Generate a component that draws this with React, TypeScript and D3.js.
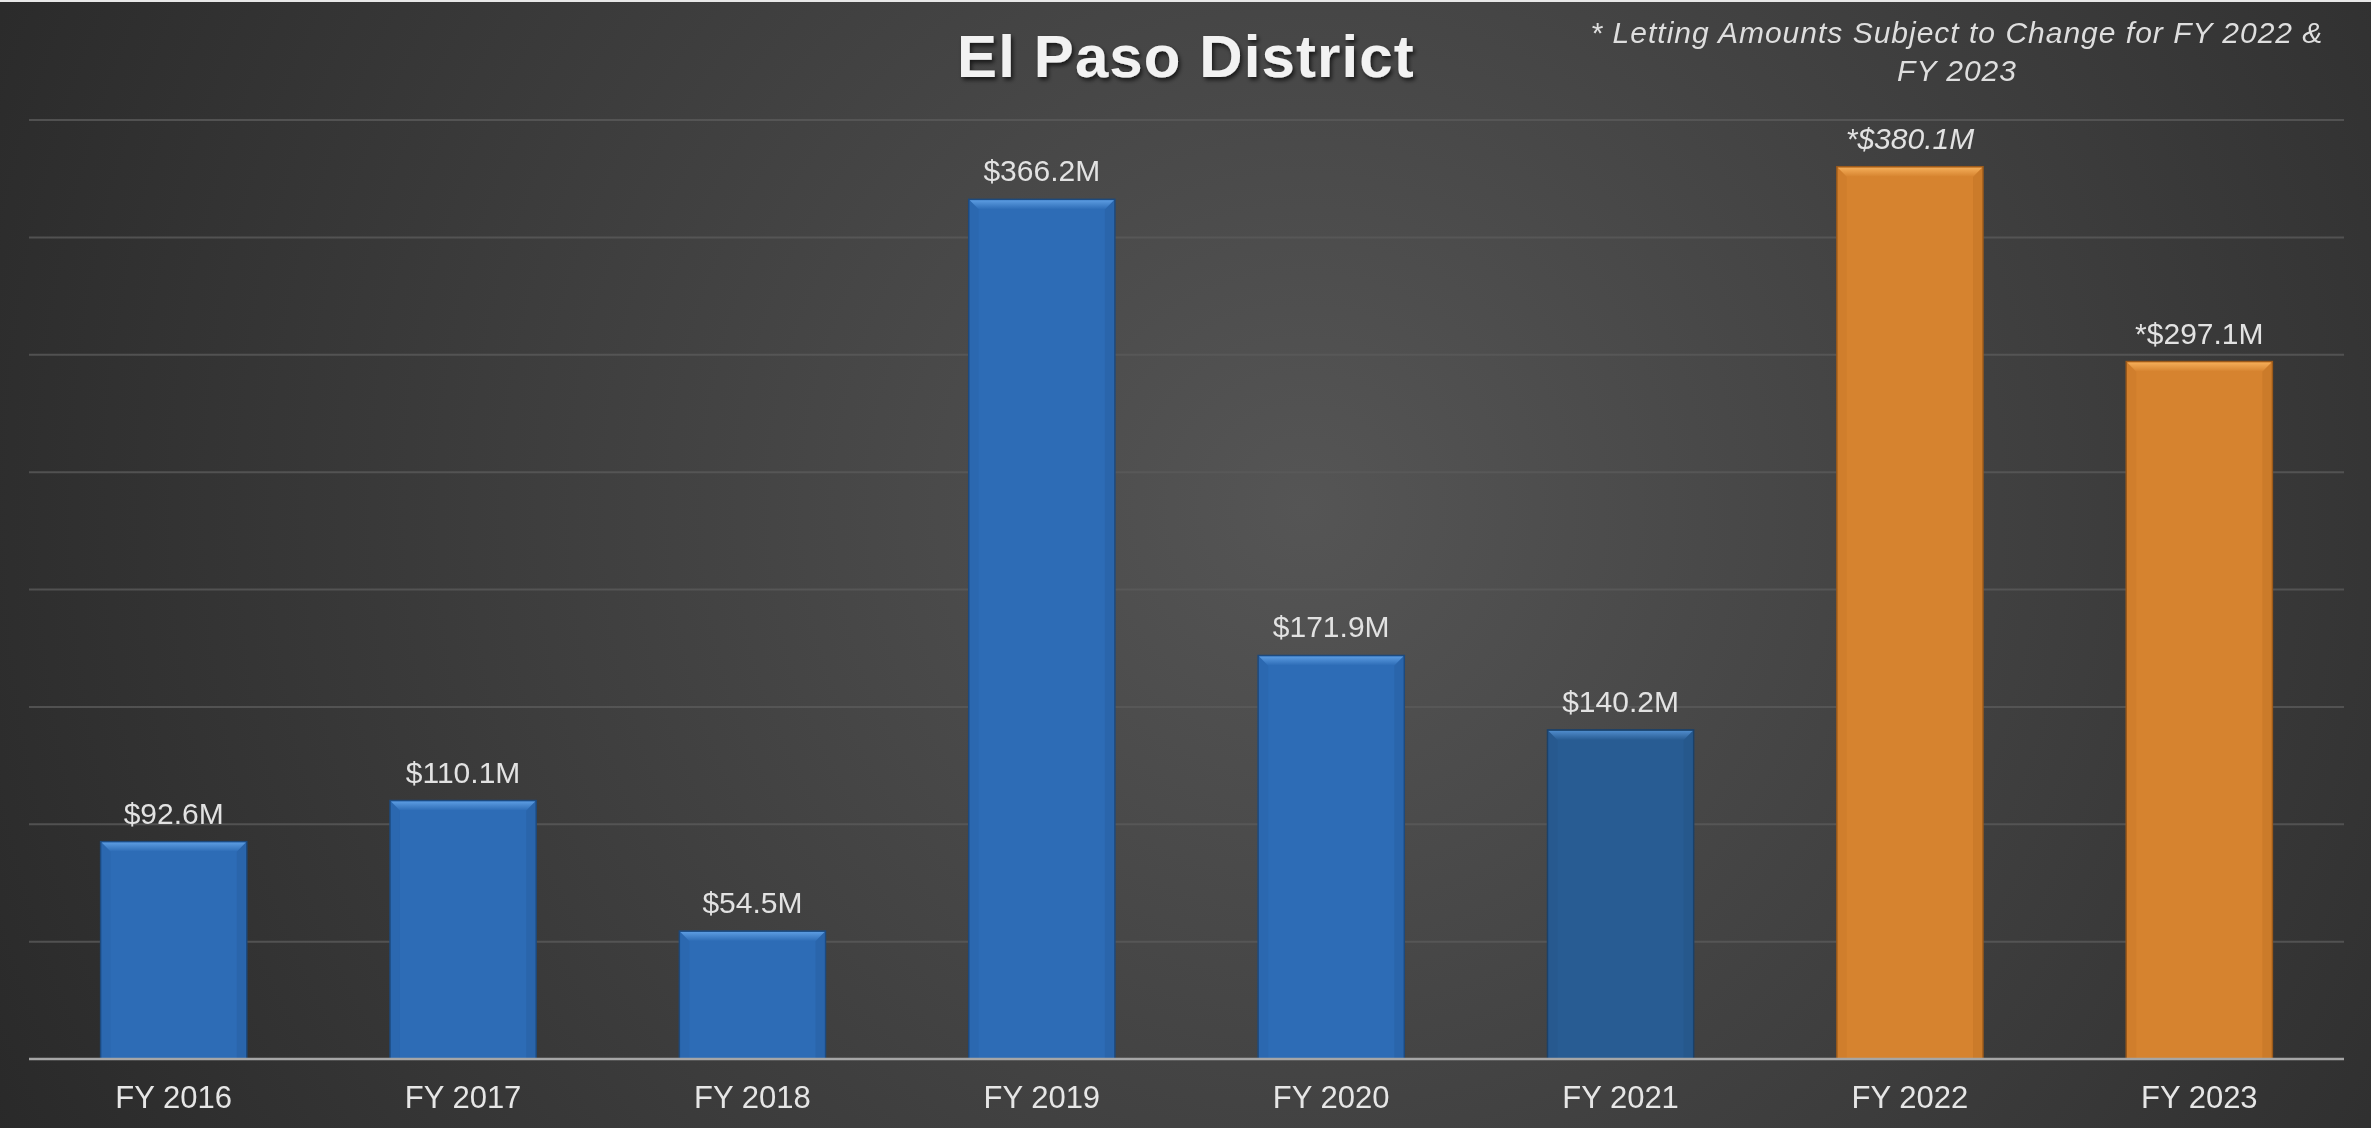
import React from "react";
import * as d3 from "d3";

const categories = ["FY 2016", "FY 2017", "FY 2018", "FY 2019", "FY 2020", "FY 2021", "FY 2022", "FY 2023"];
const values = [92.6, 110.1, 54.5, 366.2, 171.9, 140.2, 380.1, 297.1];
const valueLabels = ["$92.6M", "$110.1M", "$54.5M", "$366.2M", "$171.9M", "$140.2M", "*$380.1M", "*$297.1M"];
const status = ["actual", "actual", "actual", "actual", "actual", "actual", "projected", "projected"];
const yTicks = [0, 50, 100, 150, 200, 250, 300, 350, 400];
const title = "El Paso District";
const noteLines = ["* Letting Amounts Subject to Change for FY 2022 &", "FY 2023"];

const W = 2371;
const H = 1128;
const FONT = "'Liberation Sans', Arial, Helvetica, sans-serif";

const palette: Record<string, { base: string; light: string; dark: string; edge: string }> = {
  actual: { base: "#2d6cb6", light: "#5b9be0", dark: "#245a99", edge: "#1d4a7e" },
  actualDark: { base: "#285c93", light: "#4f8bcb", dark: "#214f80", edge: "#1b4169" },
  projected: { base: "#d6832f", light: "#f4ad58", dark: "#b86d22", edge: "#9c5a1a" },
};

export default function App() {
  const x = d3.scaleBand<string>().domain(categories).range([29, 2344]).paddingInner(0.495).paddingOuter(0.2475);
  const y = d3.scaleLinear().domain([0, 400]).range([1059, 120]);
  const bw = x.bandwidth();
  const bev = 10;

  return (
    <svg
      width={W}
      height={H}
      viewBox={`0 0 ${W} ${H}`}
      style={{ position: "fixed", left: 0, top: 0, display: "block" }}
    >
      <defs>
        <radialGradient id="bg" cx="0.55" cy="0.45" r="0.7" gradientTransform="translate(0.55 0.45) scale(1 2.1) translate(-0.55 -0.45)">
          <stop offset="0" stopColor="#555555" />
          <stop offset="0.5" stopColor="#3c3c3c" />
          <stop offset="1" stopColor="#232323" />
        </radialGradient>
        <filter id="tshadow" x="-10%" y="-30%" width="120%" height="160%">
          <feDropShadow dx="2" dy="3" stdDeviation="2" floodColor="#000" floodOpacity="0.65" />
        </filter>
        {Object.entries(palette).map(([k, c]) => (
          <linearGradient key={k} id={`top-${k}`} x1="0" y1="0" x2="0" y2="1">
            <stop offset="0" stopColor={c.light} />
            <stop offset="1" stopColor={c.base} />
          </linearGradient>
        ))}
      </defs>
      <rect x={0} y={0} width={W} height={H} fill="url(#bg)" />
      <rect x={0} y={0} width={W} height={2} fill="#e8e8e8" />

      {yTicks.slice(1).map((t) => (
        <line key={t} x1={29} x2={2344} y1={y(t)} y2={y(t)} stroke="#5a5a5a" strokeOpacity={0.8} strokeWidth={2} />
      ))}

      {categories.map((c, i) => {
        const key = status[i] === "actual" && c === "FY 2021" ? "actualDark" : status[i];
        const col = palette[key];
        const x0 = x(c)!;
        const y0 = y(values[i]);
        const y1 = y(0);
        return (
          <g key={c}>
            <rect x={x0} y={y0} width={bw} height={y1 - y0} fill={col.base} stroke={col.edge} strokeWidth={1.5} />
            <polygon
              points={`${x0 + 1},${y0 + 1} ${x0 + bev},${y0 + bev} ${x0 + bev},${y1} ${x0 + 1},${y1}`}
              fill={col.dark}
              opacity={0.2}
            />
            <polygon
              points={`${x0 + bw - 1},${y0 + 1} ${x0 + bw - bev},${y0 + bev} ${x0 + bw - bev},${y1} ${x0 + bw - 1},${y1}`}
              fill={col.dark}
              opacity={0.35}
            />
            <polygon
              points={`${x0 + 1},${y0 + 1} ${x0 + bw - 1},${y0 + 1} ${x0 + bw - bev},${y0 + bev} ${x0 + bev},${y0 + bev}`}
              fill={`url(#top-${key})`}
            />
            <text
              x={x0 + bw / 2}
              y={y0 - 18}
              textAnchor="middle"
              fontFamily={FONT}
              fontSize={30}
              fontStyle={c === "FY 2022" ? "italic" : "normal"}
              fill="#e2e2e2"
            >
              {valueLabels[i]}
            </text>
            <text x={x0 + bw / 2} y={1108} textAnchor="middle" fontFamily={FONT} fontSize={31} fill="#e6e6e6">
              {c}
            </text>
          </g>
        );
      })}

      <line x1={29} x2={2344} y1={y(0)} y2={y(0)} stroke="#a6a6a6" strokeWidth={2.5} />

      <text
        x={1186}
        y={77}
        textAnchor="middle"
        fontFamily={FONT}
        fontWeight="bold"
        fontSize={60}
        letterSpacing={1.1}
        fill="#f2f2f2"
        filter="url(#tshadow)"
      >
        {title}
      </text>
      <text textAnchor="middle" fontFamily={FONT} fontSize={30} letterSpacing={1} fontStyle="italic" fill="#dedede">
        {noteLines.map((l, i) => (
          <tspan key={i} x={1957} y={43 + i * 38}>
            {l}
          </tspan>
        ))}
      </text>
    </svg>
  );
}
